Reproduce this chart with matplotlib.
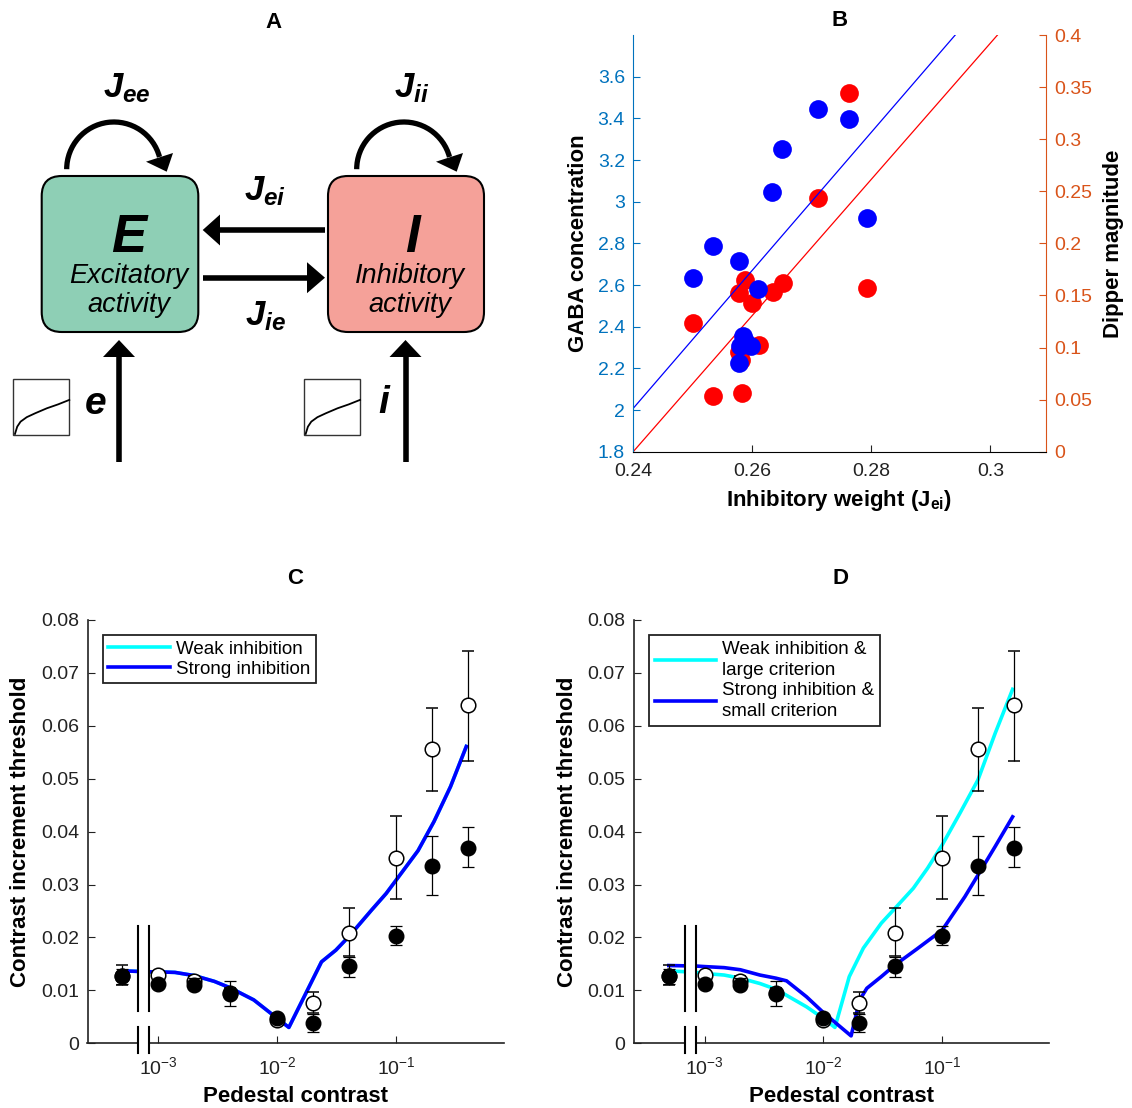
import matplotlib
matplotlib.use('Agg')
import matplotlib.pyplot as plt
import numpy as np
from matplotlib.patches import FancyBboxPatch, Arc, Polygon, Rectangle

plt.rcParams['font.family'] = 'Liberation Sans'
plt.rcParams['mathtext.fontset'] = 'custom'
plt.rcParams['mathtext.rm'] = 'Liberation Sans'
plt.rcParams['mathtext.it'] = 'Liberation Sans:italic:bold'
plt.rcParams['mathtext.bf'] = 'Liberation Sans:bold'

# ---- panel B data ----
gaba_x = [0.2500, 0.2534, 0.2578, 0.2610, 0.2633, 0.2650, 0.2710, 0.2763, 0.2792,
          0.2584, 0.2598, 0.2580, 0.2577, 0.2587]
gaba_y = [2.633, 2.789, 2.717, 2.581, 3.045, 3.255, 3.443, 3.398, 2.920,
          2.355, 2.307, 2.307, 2.224, 2.330]
dip_x = [0.2500, 0.2534, 0.2587, 0.2578, 0.2599, 0.2635, 0.2652, 0.2612, 0.2578,
         0.2581, 0.2582, 0.2710, 0.2763, 0.2792]
dip_y = [0.124, 0.053, 0.165, 0.152, 0.1425, 0.1536, 0.1617, 0.1024, 0.096,
         0.088, 0.056, 0.244, 0.344, 0.157]
fit_gaba_x = [0.24, 0.2941]
fit_gaba_y = [2.008, 3.80]
fit_dip_x = [0.24, 0.3012]
fit_dip_y = [0.0, 0.40]

# ---- panels C / D data ----
pedestal = [5e-4, 1e-3, 2e-3, 4e-3, 1e-2, 2e-2, 4e-2, 0.1, 0.2, 0.4]
open_y = [0.0128, 0.0129, 0.0117, 0.0096, 0.0044, 0.0076, 0.0208, 0.0351, 0.0556, 0.0639]
open_lo = [0.0110, 0.0122, 0.0108, 0.0088, 0.0040, 0.0057, 0.0165, 0.0272, 0.0477, 0.0534]
open_hi = [0.0148, 0.0134, 0.0128, 0.0104, 0.0049, 0.0097, 0.0255, 0.0430, 0.0634, 0.0741]
fill_y = [0.0127, 0.0113, 0.0110, 0.0093, 0.0048, 0.0038, 0.0146, 0.0203, 0.0336, 0.0370]
fill_lo = [0.0112, 0.0106, 0.0104, 0.0071, 0.0043, 0.0022, 0.0126, 0.0185, 0.0280, 0.0333]
fill_hi = [0.0140, 0.0120, 0.0124, 0.0118, 0.0053, 0.0056, 0.0164, 0.0222, 0.0392, 0.0408]

c_x = [5e-4, 8.5e-4, 1e-3, 1.38e-3, 2e-3, 2.96e-3, 4e-3, 6.34e-3, 1e-2, 1.25e-2,
       2.35e-2, 3.1e-2, 4e-2, 6.2e-2, 8.2e-2, 0.1, 0.152, 0.207, 0.285, 0.387]
c_strong = [0.0137, 0.0135, 0.0135, 0.0134, 0.0128, 0.0117, 0.0105, 0.0082, 0.0047, 0.0030,
            0.0154, 0.0176, 0.0202, 0.0252, 0.0283, 0.0309, 0.0364, 0.0419, 0.0485, 0.0561]
c_weak = c_strong

d_weak_x = [5e-4, 8.5e-4, 1e-3, 1.46e-3, 2e-3, 2.92e-3, 4e-3, 7.2e-3, 1e-2, 1.25e-2,
            1.65e-2, 2.17e-2, 3.07e-2, 4e-2, 5.71e-2, 7.53e-2, 0.1, 0.141, 0.2, 0.279, 0.391]
d_weak = [0.0137, 0.0134, 0.0132, 0.0129, 0.0123, 0.0113, 0.0102, 0.0069, 0.0047, 0.0030,
          0.0126, 0.0180, 0.0227, 0.0255, 0.0293, 0.0331, 0.0375, 0.0435, 0.0498, 0.0586, 0.0669]
d_strong_x = [5e-4, 8.5e-4, 1e-3, 1.46e-3, 2e-3, 2.92e-3, 4e-3, 4.9e-3, 7.2e-3, 1e-2,
              1.71e-2, 2.02e-2, 2.32e-2, 3.07e-2, 4e-2, 6.1e-2, 0.1, 0.155, 0.2, 0.279, 0.391]
d_strong = [0.0147, 0.0146, 0.0145, 0.0143, 0.0139, 0.0129, 0.0123, 0.0118, 0.0088, 0.0058,
            0.0014, 0.0082, 0.0104, 0.0126, 0.0148, 0.0178, 0.0214, 0.0277, 0.0318, 0.0372, 0.0428]

y_ticks = [0, 0.01, 0.02, 0.03, 0.04, 0.05, 0.06, 0.07, 0.08]
y_ticklabels = ['0', '0.01', '0.02', '0.03', '0.04', '0.05', '0.06', '0.07', '0.08']
x_ticks = [1e-3, 1e-2, 1e-1]
x_ticklabels = ['$10^{-3}$', '$10^{-2}$', '$10^{-1}$']

W, H = 1132, 1108
fig = plt.figure(figsize=(W / 100, H / 100), dpi=100)


def px_axes(left, top, right, bottom):
    return fig.add_axes([left / W, 1 - bottom / H, (right - left) / W, (bottom - top) / H])


TICK = 14
LABEL = 16

# ================= panel A: diagram =================
ax_a = px_axes(0, 0, 560, 480)
ax_a.set_xlim(0, 560)
ax_a.set_ylim(480, 0)
ax_a.axis('off')

ax_a.add_patch(FancyBboxPatch((41.7, 176), 156.6, 156, boxstyle='round,pad=0,rounding_size=20',
                              fc='#8ecfb5', ec='black', lw=1.5))
ax_a.add_patch(FancyBboxPatch((328, 176), 156, 156, boxstyle='round,pad=0,rounding_size=20',
                              fc='#f5a199', ec='black', lw=1.5))

for xo in (0, 290):
    ax_a.add_patch(Arc((113.9 + xo, 169.2), 94.4, 94.4, theta1=180, theta2=345, lw=3.8, color='black'))
    ax_a.add_patch(Polygon([(166.7 + xo, 171.7), (146 + xo, 161.7), (173 + xo, 153)],
                           closed=True, color='black', lw=0))

# horizontal arrows
ax_a.plot([325, 218], [230, 230], color='black', lw=4, solid_capstyle='butt')
ax_a.add_patch(Polygon([(202.7, 230), (220, 214.5), (220, 245.5)], color='black', lw=0))
ax_a.plot([202.7, 309], [277.7, 277.7], color='black', lw=4, solid_capstyle='butt')
ax_a.add_patch(Polygon([(325, 277.7), (307, 262.2), (307, 293.2)], color='black', lw=0))

# input arrows
for xa in (119, 405.5):
    ax_a.plot([xa, xa], [462, 354], color='black', lw=4, solid_capstyle='butt')
    ax_a.add_patch(Polygon([(xa, 340), (xa - 16, 357), (xa + 16, 357)], color='black', lw=0))

# input nonlinearity icons
icon_rx = [0.03, 0.07, 0.13, 0.24, 0.39, 0.60, 0.80, 1.0]
icon_ry = [0.02, 0.15, 0.24, 0.32, 0.39, 0.48, 0.55, 0.63]
for bx in (13.3, 304):
    ax_a.add_patch(Rectangle((bx, 379.3), 56, 55.7, fill=False, ec='#333333', lw=1))
    ax_a.plot([bx + 56 * r for r in icon_rx], [435 - 55.7 * r for r in icon_ry],
              color='black', lw=1.3)

ax_a.text(129, 252, 'E', ha='center', va='baseline', fontsize=38, fontweight='bold', fontstyle='italic')
ax_a.text(412, 252, 'I', ha='center', va='baseline', fontsize=38, fontweight='bold', fontstyle='italic')
ax_a.text(128.7, 283.3, 'Excitatory', ha='center', va='baseline', fontsize=19.5, fontstyle='italic')
ax_a.text(128.7, 311.7, 'activity', ha='center', va='baseline', fontsize=19.5, fontstyle='italic')
ax_a.text(410, 283.3, 'Inhibitory', ha='center', va='baseline', fontsize=19.5, fontstyle='italic')
ax_a.text(410, 311.7, 'activity', ha='center', va='baseline', fontsize=19.5, fontstyle='italic')

ax_a.text(127, 97, r'$J_{ee}$', ha='center', va='baseline', fontsize=25)
ax_a.text(412, 97, r'$J_{ii}$', ha='center', va='baseline', fontsize=25)
ax_a.text(265, 200, r'$J_{ei}$', ha='center', va='baseline', fontsize=25)
ax_a.text(265, 325, r'$J_{ie}$', ha='center', va='baseline', fontsize=25)
ax_a.text(96, 404, 'e', ha='center', va='center', fontsize=28, fontweight='bold', fontstyle='italic')
ax_a.text(384, 403, 'i', ha='center', va='center', fontsize=28, fontweight='bold', fontstyle='italic')

# ================= panel B =================
BLUE_AX = '#0072BD'
RED_AX = '#D95319'
ax_b = px_axes(633.2, 35, 1045.7, 451.7)
ax_b2 = ax_b.twinx()
ax_b.set_zorder(ax_b2.get_zorder() + 1)
ax_b.patch.set_visible(False)

ax_b2.plot(fit_dip_x, fit_dip_y, color='red', lw=0.9)
ax_b2.plot(dip_x, dip_y, 'o', color='red', ms=13.5, mec='none')
ax_b.plot(fit_gaba_x, fit_gaba_y, color='blue', lw=0.9)
ax_b.plot(gaba_x, gaba_y, 'o', color='blue', ms=13.5, mec='none')

ax_b.set_xlim(0.24, 0.3093)
ax_b.set_ylim(1.8, 3.8)
ax_b2.set_ylim(0, 0.4)
ax_b.set_xticks([0.24, 0.26, 0.28, 0.30])
ax_b.set_xticklabels(['0.24', '0.26', '0.28', '0.3'])
ax_b.set_yticks([1.8, 2.0, 2.2, 2.4, 2.6, 2.8, 3.0, 3.2, 3.4, 3.6])
ax_b.set_yticklabels(['1.8', '2', '2.2', '2.4', '2.6', '2.8', '3', '3.2', '3.4', '3.6'])
ax_b2.set_yticks([0, 0.05, 0.1, 0.15, 0.2, 0.25, 0.3, 0.35, 0.4])
ax_b2.set_yticklabels(['0', '0.05', '0.1', '0.15', '0.2', '0.25', '0.3', '0.35', '0.4'])

for s in ('top', 'right'):
    ax_b.spines[s].set_visible(False)
for s in ('top', 'left', 'bottom'):
    ax_b2.spines[s].set_visible(False)
ax_b.spines['left'].set_color(BLUE_AX)
ax_b2.spines['right'].set_color(RED_AX)
ax_b.tick_params(axis='x', direction='in', length=5, labelsize=TICK, pad=8, colors='#222222')
ax_b.tick_params(axis='y', direction='in', length=5, labelsize=TICK, pad=6, colors=BLUE_AX)
ax_b2.tick_params(axis='y', direction='in', length=5, labelsize=TICK, pad=6, colors=RED_AX)

ax_b.set_ylabel('GABA concentration', fontsize=LABEL, fontweight='bold', labelpad=6)
ax_b2.set_ylabel('Dipper magnitude', fontsize=LABEL, fontweight='bold', labelpad=8)
ax_b.set_xlabel(r'Inhibitory weight (J$_{\mathbf{ei}}$)', fontsize=LABEL, fontweight='bold', labelpad=6)


# ================= panels C, D =================
def dipper_panel(ax, curves, labels, legend_kw):
    for (cx, cy), col in zip(curves, ['cyan', 'blue']):
        ax.plot(cx, cy, color=col, lw=2.6, zorder=2)
    ax.errorbar(pedestal, open_y,
                yerr=[np.subtract(open_y, open_lo), np.subtract(open_hi, open_y)],
                fmt='o', color='black', mfc='white', mec='black', ms=10.5, mew=1.1,
                ecolor='black', elinewidth=0.9, capsize=4.5, capthick=0.9, zorder=3)
    ax.errorbar(pedestal, fill_y,
                yerr=[np.subtract(fill_y, fill_lo), np.subtract(fill_hi, fill_y)],
                fmt='o', color='black', mfc='black', mec='black', ms=10.5,
                ecolor='black', elinewidth=0.9, capsize=4.5, capthick=0.9, zorder=4)

    ax.set_xscale('log')
    ax.set_xlim(10 ** -3.595, 10 ** -0.099)
    ax.set_ylim(0, 0.08)
    ax.set_xticks(x_ticks)
    ax.set_xticklabels(x_ticklabels)
    ax.xaxis.set_minor_locator(matplotlib.ticker.NullLocator())
    ax.set_yticks(y_ticks)
    ax.set_yticklabels(y_ticklabels)
    for s in ('top', 'right'):
        ax.spines[s].set_visible(False)
    for s in ('left', 'bottom'):
        ax.spines[s].set_linewidth(1.2)
        ax.spines[s].set_color('#222222')
    ax.tick_params(direction='in', length=5, labelsize=TICK, pad=6, colors='#222222')
    ax.tick_params(axis='x', pad=9)

    # axis break
    brk = [6.8e-4, 8.4e-4]
    ax.add_patch(Rectangle((brk[0], -0.0019), brk[1] - brk[0], 0.0241, fc='white', ec='none',
                           zorder=2.6, clip_on=False))
    for bx in brk:
        ax.plot([bx, bx], [0.00616, 0.02217], color='black', lw=1.5, zorder=2.7, clip_on=False)
        ax.plot([bx, bx], [-0.00189, 0.00314], color='black', lw=1.5, zorder=2.7, clip_on=False)

    ax.set_xlabel('Pedestal contrast', fontsize=LABEL, fontweight='bold', labelpad=6)
    ax.set_ylabel('Contrast increment threshold', fontsize=LABEL, fontweight='bold', labelpad=7)
    leg = ax.legend(ax.get_lines()[:2], labels, loc='upper left', fontsize=13.5, frameon=True,
                    fancybox=False, edgecolor='#222222', framealpha=1, **legend_kw)
    leg.get_frame().set_linewidth(1.3)
    for t in leg.get_texts():
        t.set_linespacing(1.3)


ax_c = px_axes(87.5, 620, 503.6, 1043.3)
dipper_panel(ax_c, [(c_x, c_weak), (c_x, c_strong)], ['Weak inhibition', 'Strong inhibition'],
             dict(handlelength=3.3, handletextpad=0.3, labelspacing=0.15, borderpad=0.3,
                  borderaxespad=0.8))

ax_d = px_axes(633.9, 620, 1049.3, 1043.3)
dipper_panel(ax_d, [(d_weak_x, d_weak), (d_strong_x, d_strong)],
             ['Weak inhibition &\nlarge criterion', 'Strong inhibition &\nsmall criterion'],
             dict(handlelength=3.3, handletextpad=0.3, labelspacing=0.2, borderpad=0.3,
                  borderaxespad=0.8))

# panel letters
for lx, ly, letter in [(274, 23, 'A'), (840, 20, 'B'), (295, 578, 'C'), (840, 578, 'D')]:
    fig.text(lx / W, 1 - ly / H, letter, ha='center', va='center', fontsize=LABEL, fontweight='bold')

fig.savefig('out.png', dpi=100)
